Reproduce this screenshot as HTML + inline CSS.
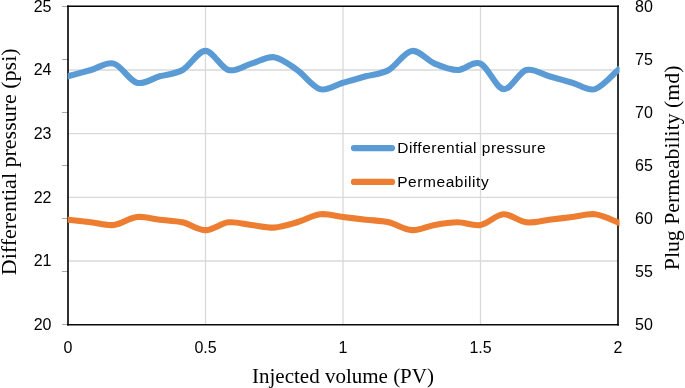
<!DOCTYPE html>
<html><head><meta charset="utf-8"><style>
html,body{margin:0;padding:0;background:#fff;width:685px;height:388px;overflow:hidden}
svg{display:block}
svg{will-change:transform}
</style></head><body>
<svg width="685" height="388" viewBox="0 0 685 388">
<defs><clipPath id="pc"><rect x="67.7" y="0" width="551.9" height="388"/></clipPath></defs>
<rect width="685" height="388" fill="#fff"/>
<line x1="68" x2="618" y1="70.0" y2="70.0" stroke="#d9d9d9" stroke-width="1.3"/>
<line x1="68" x2="618" y1="133.7" y2="133.7" stroke="#d9d9d9" stroke-width="1.3"/>
<line x1="68" x2="618" y1="197.3" y2="197.3" stroke="#d9d9d9" stroke-width="1.3"/>
<line x1="68" x2="618" y1="261.0" y2="261.0" stroke="#d9d9d9" stroke-width="1.3"/>
<line x1="205.5" x2="205.5" y1="6" y2="324" stroke="#d9d9d9" stroke-width="1.3"/>
<line x1="343.0" x2="343.0" y1="6" y2="324" stroke="#d9d9d9" stroke-width="1.3"/>
<line x1="480.5" x2="480.5" y1="6" y2="324" stroke="#d9d9d9" stroke-width="1.3"/>
<line x1="62" x2="68" y1="6.5" y2="6.5" stroke="#a8a8a8" stroke-width="1"/>
<line x1="62" x2="68" y1="59.5" y2="59.5" stroke="#a8a8a8" stroke-width="1"/>
<line x1="62" x2="68" y1="112.5" y2="112.5" stroke="#a8a8a8" stroke-width="1"/>
<line x1="62" x2="68" y1="165.5" y2="165.5" stroke="#a8a8a8" stroke-width="1"/>
<line x1="62" x2="68" y1="218.5" y2="218.5" stroke="#a8a8a8" stroke-width="1"/>
<line x1="62" x2="68" y1="271.5" y2="271.5" stroke="#a8a8a8" stroke-width="1"/>
<line x1="62" x2="68" y1="324.5" y2="324.5" stroke="#a8a8a8" stroke-width="1"/>
<line x1="67" x2="619" y1="6.3" y2="6.3" stroke="#000" stroke-width="1.4"/>
<line x1="67" x2="619" y1="324.72" y2="324.72" stroke="#0a0a0a" stroke-width="1.45"/>
<line x1="68" x2="68" y1="5.6" y2="325.4" stroke="#000" stroke-width="1.62"/>
<line x1="618" x2="618" y1="5.6" y2="325.4" stroke="#000" stroke-width="1.6"/>
<path d="M68.0,76.3 C71.8,75.3 83.3,72.1 90.9,70.0 C98.6,67.9 106.2,61.5 113.8,63.6 C121.5,65.7 129.1,80.6 136.8,82.7 C144.4,84.8 152.0,78.5 159.7,76.3 C167.3,74.2 174.9,74.2 182.6,70.0 C190.2,65.7 197.9,50.9 205.5,50.9 C213.1,50.9 220.8,67.9 228.4,70.0 C236.1,72.1 243.7,65.7 251.3,63.6 C259.0,61.5 266.6,56.2 274.2,57.2 C281.9,58.3 289.5,64.7 297.2,70.0 C304.8,75.3 312.4,87.0 320.1,89.1 C327.7,91.2 335.4,84.8 343.0,82.7 C350.6,80.6 358.3,78.5 365.9,76.3 C373.6,74.2 381.2,74.2 388.8,70.0 C396.5,65.7 404.1,51.9 411.8,50.9 C419.4,49.8 427.0,60.4 434.7,63.6 C442.3,66.8 449.9,70.0 457.6,70.0 C465.2,70.0 472.9,60.4 480.5,63.6 C488.1,66.8 495.8,88.0 503.4,89.1 C511.1,90.1 518.7,72.1 526.3,70.0 C534.0,67.9 541.6,74.2 549.2,76.3 C556.9,78.5 564.5,80.6 572.2,82.7 C579.8,84.8 587.4,91.2 595.1,89.1 C602.7,87.0 614.2,73.2 618.0,70.0" fill="none" stroke="#5b9bd5" stroke-width="6.1" stroke-linecap="square" stroke-linejoin="round" clip-path="url(#pc)"/>
<path d="M68.0,219.7 C71.8,220.1 83.3,221.4 90.9,222.3 C98.6,223.2 106.2,225.8 113.8,225.0 C121.5,224.1 129.1,217.9 136.8,217.0 C144.4,216.1 152.0,218.8 159.7,219.7 C167.3,220.6 174.9,220.6 182.6,222.3 C190.2,224.1 197.9,230.1 205.5,230.1 C213.1,230.1 220.8,223.2 228.4,222.3 C236.1,221.5 243.7,224.1 251.3,225.0 C259.0,225.8 266.6,228.0 274.2,227.6 C281.9,227.1 289.5,224.5 297.2,222.3 C304.8,220.1 312.4,215.2 320.1,214.3 C327.7,213.4 335.4,216.1 343.0,217.0 C350.6,217.9 358.3,218.8 365.9,219.7 C373.6,220.6 381.2,220.6 388.8,222.3 C396.5,224.1 404.1,229.7 411.8,230.1 C419.4,230.6 427.0,226.3 434.7,225.0 C442.3,223.6 449.9,222.3 457.6,222.3 C465.2,222.3 472.9,226.3 480.5,225.0 C488.1,223.6 495.8,214.8 503.4,214.3 C511.1,213.9 518.7,221.4 526.3,222.3 C534.0,223.2 541.6,220.6 549.2,219.7 C556.9,218.8 564.5,217.9 572.2,217.0 C579.8,216.1 587.4,213.4 595.1,214.3 C602.7,215.2 614.2,221.0 618.0,222.3" fill="none" stroke="#ed7d31" stroke-width="6.1" stroke-linecap="square" stroke-linejoin="round" clip-path="url(#pc)"/>
<text x="51.5" y="11.8" text-anchor="end" font-family="Liberation Sans" font-size="16" fill="#000">25</text>
<text x="51.5" y="75.4" text-anchor="end" font-family="Liberation Sans" font-size="16" fill="#000">24</text>
<text x="51.5" y="139.0" text-anchor="end" font-family="Liberation Sans" font-size="16" fill="#000">23</text>
<text x="51.5" y="202.6" text-anchor="end" font-family="Liberation Sans" font-size="16" fill="#000">22</text>
<text x="51.5" y="266.2" text-anchor="end" font-family="Liberation Sans" font-size="16" fill="#000">21</text>
<text x="51.5" y="329.8" text-anchor="end" font-family="Liberation Sans" font-size="16" fill="#000">20</text>
<text x="635" y="11.8" font-family="Liberation Sans" font-size="16" fill="#000">80</text>
<text x="635" y="64.8" font-family="Liberation Sans" font-size="16" fill="#000">75</text>
<text x="635" y="117.8" font-family="Liberation Sans" font-size="16" fill="#000">70</text>
<text x="635" y="170.8" font-family="Liberation Sans" font-size="16" fill="#000">65</text>
<text x="635" y="223.8" font-family="Liberation Sans" font-size="16" fill="#000">60</text>
<text x="635" y="276.8" font-family="Liberation Sans" font-size="16" fill="#000">55</text>
<text x="635" y="329.8" font-family="Liberation Sans" font-size="16" fill="#000">50</text>
<text x="68.0" y="353" text-anchor="middle" font-family="Liberation Sans" font-size="16" fill="#000">0</text>
<text x="205.5" y="353" text-anchor="middle" font-family="Liberation Sans" font-size="16" fill="#000">0.5</text>
<text x="343.0" y="353" text-anchor="middle" font-family="Liberation Sans" font-size="16" fill="#000">1</text>
<text x="480.5" y="353" text-anchor="middle" font-family="Liberation Sans" font-size="16" fill="#000">1.5</text>
<text x="618.0" y="353" text-anchor="middle" font-family="Liberation Sans" font-size="16" fill="#000">2</text>
<text x="343" y="383.4" text-anchor="middle" font-size="21" font-family="Liberation Serif" fill="#000">Injected volume (PV)</text>
<text transform="translate(15.8,161.8) rotate(-90)" text-anchor="middle" font-size="22" font-family="Liberation Serif" fill="#000">Differential pressure (psi)</text>
<text transform="translate(679.2,167.9) rotate(-90)" text-anchor="middle" font-size="21.8" font-family="Liberation Serif" fill="#000">Plug Permeability (md)</text>
<line x1="354" x2="392" y1="148.1" y2="148.1" stroke="#5b9bd5" stroke-width="6.2" stroke-linecap="round"/>
<line x1="354" x2="392" y1="181.9" y2="181.9" stroke="#ed7d31" stroke-width="6.2" stroke-linecap="round"/>
<text x="397.2" y="153.1" font-family="Liberation Sans" font-size="15.5" letter-spacing="0.5" fill="#000">Differential pressure</text>
<text x="397.2" y="186.6" font-family="Liberation Sans" font-size="15.5" letter-spacing="0.56" fill="#000">Permeability</text>
</svg>
</body></html>
